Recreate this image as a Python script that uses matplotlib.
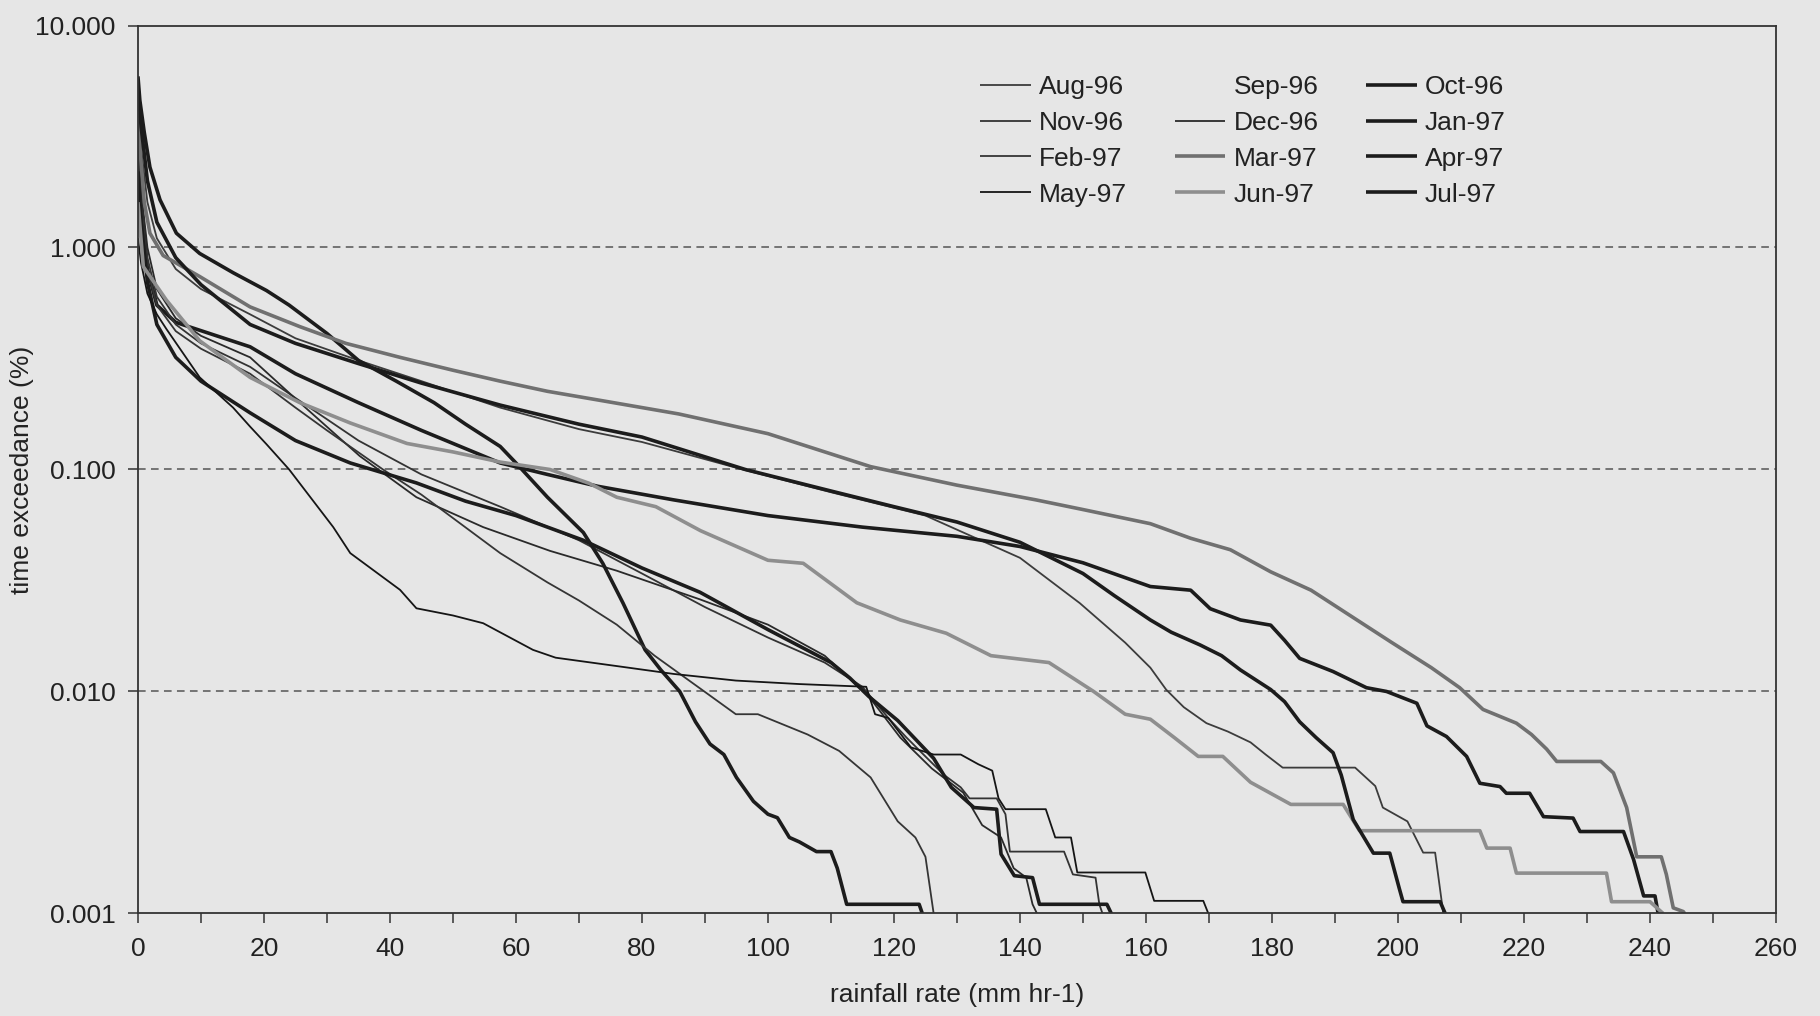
import matplotlib
matplotlib.use("Agg")
import matplotlib.pyplot as plt
from matplotlib.ticker import FixedLocator, FixedFormatter, MultipleLocator, NullLocator

plt.rcParams["font.family"] = ["Liberation Sans", "DejaVu Sans"]

# exceedance curves, rainfall rate (mm/hr) vs time exceeded (%)
aug96_x = [0, 0.5, 1.5, 3, 6, 10, 17.8, 25, 35, 45, 57.5, 70, 80, 96, 110, 125, 140, 149.5, 156.7,
           160.7, 163.2, 166, 169.6, 173, 176.6, 179, 181.7, 193.2, 196.4, 197.6, 201.5, 204, 205.9, 207.2]
aug96_y = [4.4, 2.8, 1.6, 1.1, 0.8, 0.65, 0.5, 0.39, 0.31, 0.25, 0.19, 0.152, 0.133, 0.1, 0.079, 0.062,
           0.04, 0.025, 0.0166, 0.0128, 0.0102, 0.0085, 0.0072, 0.0066, 0.0059, 0.0052, 0.00454, 0.00454,
           0.00375, 0.003, 0.0026, 0.00188, 0.00188, 0.001]

sep96_x = []
sep96_y = []

oct96_x = [0, 0.5, 1.5, 3, 6, 12.5, 17.8, 25, 35, 45, 57.5, 65, 73, 85, 100, 115, 130, 140, 150, 160.7,
           167.1, 170.2, 175, 179.8, 182, 184.4, 189.7, 195, 198.2, 203, 204.6, 207.7, 210.9, 213, 216.2,
           217.2, 220.9, 223.1, 227.8, 228.9, 235.8, 237.4, 239, 240.8, 241.3]
oct96_y = [3.6, 1.5, 0.8, 0.55, 0.46, 0.4, 0.357, 0.27, 0.2, 0.15, 0.107, 0.095, 0.084, 0.073, 0.062,
           0.055, 0.05, 0.045, 0.038, 0.0297, 0.0286, 0.0236, 0.021, 0.0199, 0.017, 0.0141, 0.0123, 0.0104,
           0.01, 0.00885, 0.007, 0.00627, 0.0051, 0.00386, 0.00373, 0.00348, 0.00348, 0.00273, 0.00269,
           0.00234, 0.00234, 0.00175, 0.0012, 0.0012, 0.001]

nov96_x = [0, 0.5, 1.5, 3, 6, 10, 17.8, 25, 35, 45, 57.5, 70, 80, 90, 100, 109, 115, 119.1, 122, 125.6,
           128, 130.6, 132, 136.3, 137.7, 138.4, 147, 148.4, 152, 152.6, 153.1]
nov96_y = [3.0, 1.7, 0.9, 0.6, 0.45, 0.37, 0.29, 0.21, 0.135, 0.095, 0.068, 0.048, 0.034, 0.024, 0.0175,
           0.0135, 0.0105, 0.0076, 0.0062, 0.0049, 0.0042, 0.0037, 0.0033, 0.0033, 0.0028, 0.0019, 0.0019,
           0.0015, 0.00145, 0.0011, 0.001]

dec96_x = [0, 0.5, 1.5, 3, 6, 10, 17.8, 25.7, 35.2, 44.2, 54.8, 65.4, 76, 89.2, 100, 109, 116, 121, 126,
           131, 134, 137, 139, 141, 142, 142.7]
dec96_y = [3.3, 1.8, 1.0, 0.65, 0.48, 0.4, 0.32, 0.2, 0.115, 0.075, 0.055, 0.043, 0.035, 0.026, 0.02,
           0.0145, 0.0095, 0.0062, 0.0045, 0.0035, 0.0025, 0.0022, 0.0016, 0.00145, 0.0011, 0.001]

jan97_x = [0, 0.3, 1, 1.9, 3.5, 6.1, 9.8, 15.1, 20.4, 24, 30, 35, 41, 47, 52, 57.5, 60, 65, 70.7, 73.8,
           77, 80.5, 83, 86, 88.5, 90.8, 93, 95, 97.7, 100, 101.5, 103.4, 105, 107.7, 110, 111, 112.5, 124,
           124.5]
jan97_y = [5.9, 4.6, 3.3, 2.3, 1.64, 1.16, 0.94, 0.77, 0.64, 0.55, 0.41, 0.31, 0.25, 0.2, 0.16, 0.127,
           0.107, 0.075, 0.052, 0.0377, 0.025, 0.0154, 0.0125, 0.01, 0.0073, 0.0058, 0.0052, 0.0041, 0.0032,
           0.0028, 0.0027, 0.0022, 0.0021, 0.0019, 0.0019, 0.0016, 0.0011, 0.0011, 0.001]

feb97_x = [0, 0.5, 1.5, 3, 6, 10, 17.8, 25, 30, 38.9, 45, 57.5, 65, 70, 76, 82, 89.9, 94.9, 98.4, 106.3,
           111.3, 116.3, 120.6, 123.4, 125, 126.3]
feb97_y = [2.6, 1.4, 0.8, 0.55, 0.42, 0.35, 0.27, 0.19, 0.15, 0.1, 0.077, 0.042, 0.031, 0.0257, 0.02,
           0.0145, 0.01, 0.0079, 0.0079, 0.0064, 0.0054, 0.0041, 0.0026, 0.0022, 0.0018, 0.001]

mar97_x = [0, 0.4, 1, 1.9, 4, 9.8, 17.8, 25.7, 33, 41.6, 50, 57.5, 65, 73.3, 85.8, 100, 116.3, 130, 142.5,
           150, 160.7, 167.1, 173.4, 179.8, 186.2, 192.5, 198.9, 205.3, 209.8, 213.5, 218.8, 221.2, 223.6,
           225.2, 232.2, 234.2, 236.3, 237.9, 241.8, 242.6, 243.7, 245.3, 245.5]
mar97_y = [4.2, 2.6, 1.6, 1.16, 0.92, 0.74, 0.54, 0.44, 0.37, 0.32, 0.28, 0.25, 0.225, 0.205, 0.178,
           0.145, 0.103, 0.085, 0.073, 0.066, 0.057, 0.049, 0.0435, 0.0346, 0.0286, 0.0219, 0.0167, 0.0128,
           0.0104, 0.0083, 0.0072, 0.0064, 0.0055, 0.00484, 0.00484, 0.0043, 0.003, 0.0018, 0.0018, 0.0015,
           0.00106, 0.00102, 0.001]

apr97_x = [0, 0.5, 1.5, 3, 6, 10, 17.8, 25, 33.7, 44.2, 52, 60, 70.7, 80, 89.2, 100, 110, 113, 116, 120.6,
           126.3, 129.1, 132.7, 136.3, 137, 139.1, 142, 143.1, 153.8, 154.5]
apr97_y = [2.2, 1.3, 0.7, 0.45, 0.32, 0.25, 0.18, 0.135, 0.107, 0.087, 0.072, 0.062, 0.048, 0.036, 0.028,
           0.019, 0.0135, 0.0115, 0.0095, 0.0074, 0.005, 0.0037, 0.003, 0.00295, 0.00185, 0.00148, 0.00145,
           0.0011, 0.0011, 0.001]

may97_x = [0, 0.5, 1.5, 3, 4.5, 9.8, 15.1, 17.8, 20.4, 24, 31, 33.7, 41.6, 44.2, 50, 54.8, 62.7, 66.3, 77,
           85, 94.9, 105, 115.6, 117, 119.1, 122.7, 126.3, 130.6, 133.4, 135.6, 136.6, 137.7, 144.1, 145.6,
           148.1, 149.1, 159.9, 161.3, 169.1, 169.9]
may97_y = [1.1, 0.85, 0.62, 0.5, 0.43, 0.26, 0.19, 0.156, 0.13, 0.1, 0.055, 0.042, 0.0287, 0.0237, 0.022,
           0.0203, 0.0154, 0.0142, 0.0129, 0.012, 0.0112, 0.0108, 0.0105, 0.0079, 0.0076, 0.0056, 0.0052,
           0.0052, 0.0047, 0.0044, 0.0033, 0.00295, 0.00295, 0.0022, 0.0022, 0.00153, 0.00153, 0.00114,
           0.00114, 0.001]

jun97_x = [0, 0.85, 4.5, 9.8, 17.8, 25.7, 33.7, 42.7, 50, 57.5, 65.4, 71.6, 76, 82.2, 89.3, 100, 105.6,
           114.1, 121, 128.3, 135.4, 144.6, 151.7, 156.7, 160.7, 164.5, 168.3, 172.2, 176.6, 183, 191.3,
           193.9, 213, 214.1, 217.8, 218.8, 233.1, 233.9, 240, 242.1]
jun97_y = [1.6, 0.82, 0.58, 0.38, 0.26, 0.2, 0.162, 0.131, 0.12, 0.108, 0.1, 0.0867, 0.075, 0.068, 0.053,
           0.039, 0.0378, 0.0251, 0.021, 0.0183, 0.0145, 0.0135, 0.01, 0.0079, 0.0075, 0.0062, 0.0051,
           0.0051, 0.0039, 0.0031, 0.0031, 0.00236, 0.00236, 0.00197, 0.00197, 0.00152, 0.00152, 0.00113,
           0.00113, 0.001]

jul97_x = [0, 0.5, 1.5, 3, 6, 10, 17.8, 25, 35, 45, 57.5, 70, 80, 96.4, 110, 120, 130, 140, 150, 155,
           160.7, 164, 168.6, 172, 175, 179.8, 182, 184.4, 187, 189.7, 191, 192.9, 196.1, 198.7, 200.2,
           200.8, 206.7, 207.5]
jul97_y = [5.3, 3.5, 2.0, 1.3, 0.9, 0.68, 0.45, 0.37, 0.3, 0.245, 0.195, 0.16, 0.14, 0.1, 0.08, 0.068,
           0.058, 0.047, 0.034, 0.027, 0.021, 0.0185, 0.0162, 0.0145, 0.0125, 0.0102, 0.009, 0.0073, 0.0062,
           0.0053, 0.0042, 0.00265, 0.00187, 0.00187, 0.0013, 0.00113, 0.00113, 0.001]

months = ["Aug-96", "Sep-96", "Oct-96", "Nov-96", "Dec-96", "Jan-97",
          "Feb-97", "Mar-97", "Apr-97", "May-97", "Jun-97", "Jul-97"]
series = [(aug96_x, aug96_y), (sep96_x, sep96_y), (oct96_x, oct96_y), (nov96_x, nov96_y),
          (dec96_x, dec96_y), (jan97_x, jan97_y), (feb97_x, feb97_y), (mar97_x, mar97_y),
          (apr97_x, apr97_y), (may97_x, may97_y), (jun97_x, jun97_y), (jul97_x, jul97_y)]

y_ticks = [0.001, 0.01, 0.1, 1, 10]
y_labels = ["0.001", "0.010", "0.100", "1.000", "10.000"]

BG = "#e6e6e6"
INK = "#222222"
THIN = 1.3
THICK = 2.6
# (colour, width) for each month, same order as months
styles = [("#3c3c3c", THIN), ("none", THIN), ("#1c1c1c", THICK), ("#333333", THIN),
          ("#2a2a2a", THIN), ("#1c1c1c", THICK), ("#353535", THIN), ("#707070", THICK),
          ("#1c1c1c", THICK), ("#151515", THIN), ("#8e8e8e", THICK), ("#1c1c1c", THICK)]

fig = plt.figure(figsize=(18.2, 10.16), dpi=100, facecolor=BG)
ax = fig.add_axes([0.0758, 0.1009, 0.9, 0.874], facecolor=BG)

handles = []
for name, (xs, ys), (col, lw) in zip(months, series, styles):
    line, = ax.plot(xs, ys, color=col, lw=lw, label=name,
                    solid_joinstyle="round", solid_capstyle="butt")
    handles.append(line)

ax.set_yscale("log")
ax.set_xlim(0, 260)
ax.set_ylim(0.001, 10)
ax.yaxis.set_major_locator(FixedLocator(y_ticks))
ax.yaxis.set_major_formatter(FixedFormatter(y_labels))
ax.yaxis.set_minor_locator(NullLocator())
ax.xaxis.set_major_locator(MultipleLocator(20))
ax.xaxis.set_minor_locator(MultipleLocator(10))

for v in [0.01, 0.1, 1]:
    ax.axhline(v, color="#555555", lw=1.1, linestyle=(0, (5, 3.5)), zorder=0.5)

for sp in ax.spines.values():
    sp.set_color("#333333")
    sp.set_linewidth(1.3)

ax.tick_params(axis="both", which="both", direction="out", length=7, width=1.1,
               color="#333333", labelcolor=INK, labelsize=19)
ax.tick_params(axis="x", pad=10)
ax.tick_params(axis="y", pad=9)

ax.set_xlabel("rainfall rate (mm hr-1)", fontsize=19, color=INK)
ax.set_ylabel("time exceedance (%)", fontsize=19, color=INK)
ax.xaxis.set_label_coords(0.5, -0.0918)
ax.xaxis.label.set_va("center")
ax.yaxis.set_label_coords(-0.0708, 0.5)
ax.yaxis.label.set_va("center")

# legend reads across rows, matplotlib fills columns first
order = [0, 3, 6, 9, 1, 4, 7, 10, 2, 5, 8, 11]
leg = ax.legend([handles[i] for i in order], [months[i] for i in order], ncol=3,
                loc="upper left", bbox_to_anchor=(0.5385, 0.9262),
                bbox_transform=fig.transFigure, frameon=False, fontsize=19,
                handlelength=1.93, handletextpad=0.3, columnspacing=1.8,
                labelspacing=0.45, borderpad=0, borderaxespad=0)
for t in leg.get_texts():
    t.set_color(INK)

fig.savefig("out.png", dpi=100, facecolor=BG)
